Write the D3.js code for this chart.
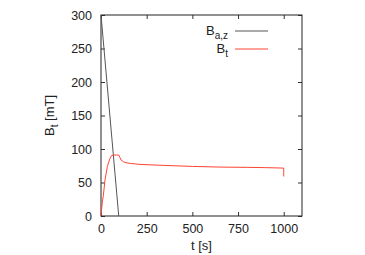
<!DOCTYPE html>
<html>
<head>
<meta charset="utf-8">
<script src="https://cdn.jsdelivr.net/npm/d3@7"></script>
<style>
  body { margin: 0; background: #fff; }
  svg { font-family: "Liberation Sans", Arial, sans-serif; }
  .tick text { font-size: 12.5px; fill: #222; }
</style>
</head>
<body>
<div id="vis"></div>
<script>
const FRAME_WIDTH = 365;
const FRAME_HEIGHT = 255;
const MARGINS = {left: 101, right: 63, top: 15, bottom: 39};

// applied field B_a,z (linear ramp down)
const baT = [0, 97];
const baV = [300, 0];

// trapped field B_t
const btT = [0, 4, 8, 13, 22, 35, 49, 57, 70, 85, 97, 104, 110, 122, 137, 160, 214, 301, 400, 500, 652, 800, 900, 1000, 1000];
const btV = [0, 12, 22, 31, 54, 74, 86, 90, 91, 91, 91, 87, 83.5, 81, 79.5, 78.5, 77, 76, 75, 74, 73, 72.6, 72.2, 71.5, 59];

const xTicks = [0, 250, 500, 750, 1000];
const yTicks = [0, 50, 100, 150, 200, 250, 300];

const VIS_WIDTH = FRAME_WIDTH - MARGINS.left - MARGINS.right;
const VIS_HEIGHT = FRAME_HEIGHT - MARGINS.top - MARGINS.bottom;

const FRAME = d3.select("#vis")
  .append("svg")
    .attr("width", FRAME_WIDTH)
    .attr("height", FRAME_HEIGHT);

const X_SCALE = d3.scaleLinear().domain([0, 1100]).range([0, VIS_WIDTH]);
const Y_SCALE = d3.scaleLinear().domain([0, 300]).range([VIS_HEIGHT, 0]);

const G = FRAME.append("g")
  .attr("transform", "translate(" + MARGINS.left + "," + MARGINS.top + ")");

// axes with inward ticks, mirrored on top/right
function styleAxis(sel) {
  sel.select(".domain").remove();
  sel.selectAll(".tick line").attr("stroke", "#333");
}

G.append("g")
  .attr("transform", "translate(0," + VIS_HEIGHT + ")")
  .call(d3.axisBottom(X_SCALE).tickValues(xTicks).tickFormat(d3.format("d"))
    .tickSizeInner(-4).tickSizeOuter(0).tickPadding(8))
  .call(styleAxis);

G.append("g")
  .call(d3.axisTop(X_SCALE).tickValues(xTicks).tickSizeInner(-4).tickSizeOuter(0).tickFormat(""))
  .call(styleAxis);

G.append("g")
  .call(d3.axisLeft(Y_SCALE).tickValues(yTicks).tickSizeInner(-4).tickSizeOuter(0).tickPadding(9))
  .call(styleAxis);

G.append("g")
  .attr("transform", "translate(" + VIS_WIDTH + ",0)")
  .call(d3.axisRight(Y_SCALE).tickValues(yTicks).tickSizeInner(-4).tickSizeOuter(0).tickFormat(""))
  .call(styleAxis);

// plot border
G.append("rect")
  .attr("width", VIS_WIDTH)
  .attr("height", VIS_HEIGHT)
  .attr("fill", "none")
  .attr("stroke", "#222")
  .attr("stroke-width", 1);

const line = d3.line()
  .x(d => X_SCALE(d[0]))
  .y(d => Y_SCALE(d[1]));

G.append("path")
  .datum(d3.zip(baT, baV))
  .attr("d", line)
  .attr("fill", "none")
  .attr("stroke", "#555")
  .attr("stroke-width", 1);

G.append("path")
  .datum(d3.zip(btT, btV))
  .attr("d", line)
  .attr("fill", "none")
  .attr("stroke", "#ff4433")
  .attr("stroke-width", 1);

// legend
const legend = [
  {name: "B", sub: "a,z", color: "#555"},
  {name: "B", sub: "t", color: "#ff4433"}
];
const LEG = FRAME.append("g");
legend.forEach((d, i) => {
  const y = 31 + i * 18;
  const t = LEG.append("text")
    .attr("x", 228)
    .attr("y", y + 4)
    .attr("text-anchor", "end")
    .attr("font-size", 13)
    .attr("fill", "#222");
  t.append("tspan").text(d.name);
  t.append("tspan").attr("dy", 4).attr("font-size", 10).text(d.sub);
  LEG.append("line")
    .attr("x1", 235).attr("x2", 268)
    .attr("y1", y).attr("y2", y)
    .attr("stroke", d.color)
    .attr("stroke-width", 1);
});

// axis labels, centred on the plot area
FRAME.append("text")
  .attr("x", MARGINS.left + VIS_WIDTH / 2)
  .attr("y", 250)
  .attr("text-anchor", "middle")
  .attr("font-size", 13)
  .attr("fill", "#222")
  .text("t [s]");

const yl = FRAME.append("text")
  .attr("transform", "translate(54," + (MARGINS.top + VIS_HEIGHT / 2) + ") rotate(-90)")
  .attr("text-anchor", "middle")
  .attr("font-size", 13)
  .attr("fill", "#222");
yl.append("tspan").text("B");
yl.append("tspan").attr("dy", 4).attr("font-size", 10).text("t");
yl.append("tspan").attr("dy", -4).text(" [mT]");
</script>
</body>
</html>
